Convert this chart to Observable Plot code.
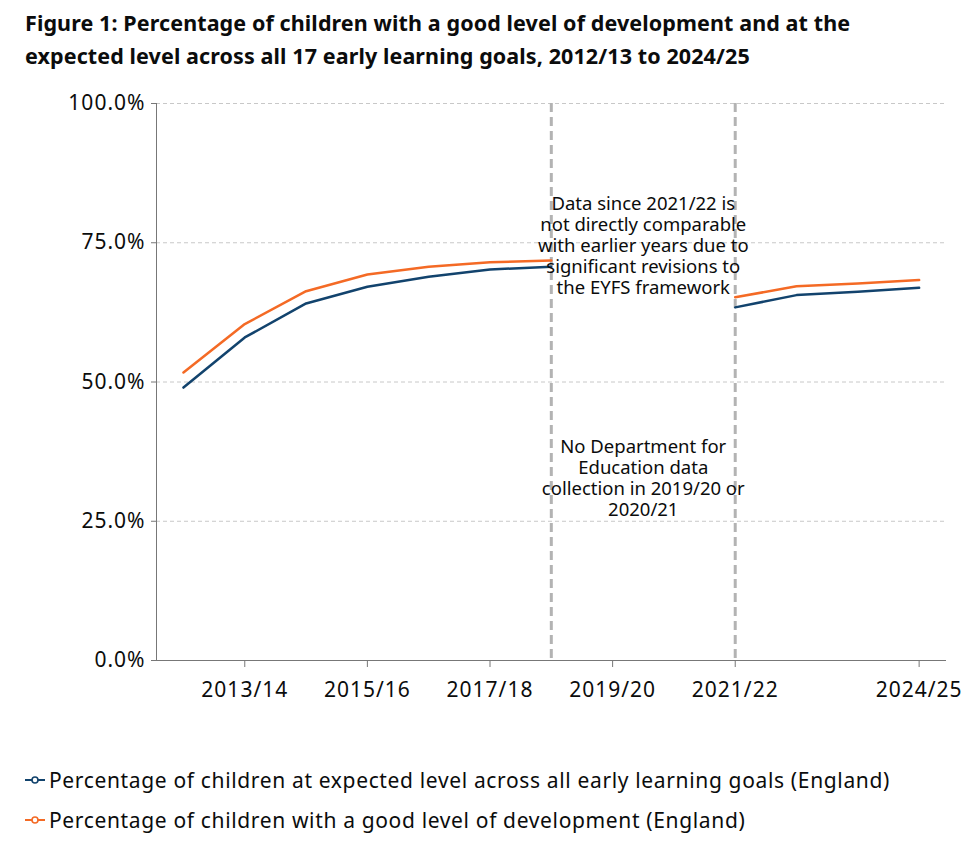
<!DOCTYPE html>
<html>
<head>
<meta charset="utf-8">
<script src="https://cdn.jsdelivr.net/npm/d3@7"></script>
<script src="https://cdn.jsdelivr.net/npm/@observablehq/plot@0.6"></script>
<style>
  body { margin: 0; background: #fff; font-family: "Noto Sans", sans-serif; color: #0b0c0c; }
  #title { position: absolute; left: 25px; top: 6px; width: 850px; font-weight: bold; font-size: 21.5px; line-height: 33px; letter-spacing: 0.1px; }
  #chart { position: absolute; left: 0; top: 85px; }
  #legend { position: absolute; left: 25px; top: 760px; font-size: 21px; letter-spacing: 0.65px; }
  .item { display: flex; align-items: center; white-space: nowrap; height: 40px; }
  .item svg { margin-right: 4px; }
  .note text { letter-spacing: 0px; }
</style>
</head>
<body>
<div id="title">Figure 1: Percentage of children with a good level of development and at the expected level across all 17 early learning goals, 2012/13 to 2024/25</div>
<div id="chart"></div>
<div id="legend"></div>
<script>
// Start year of each academic year (2012 = 2012/13)
const years = [2012, 2013, 2014, 2015, 2016, 2017, 2018, 2019, 2020, 2021, 2022, 2023, 2024];
// Percentage at expected level across all early learning goals (null = no data collected)
const expectedLevel = [49.0, 58.0, 64.1, 67.1, 68.9, 70.2, 70.7, null, null, 63.4, 65.6, 66.2, 66.9];
// Percentage with a good level of development
const goodLevel = [51.7, 60.4, 66.3, 69.3, 70.7, 71.5, 71.8, null, null, 65.2, 67.2, 67.7, 68.3];
const xTicks = [2013, 2015, 2017, 2019, 2021, 2024];
const yTicks = [0, 25, 50, 75, 100];
const breakYears = [2018, 2021];
const seriesNames = [
  "Percentage of children at expected level across all early learning goals (England)",
  "Percentage of children with a good level of development (England)"
];
const colors = ["#12436D", "#F46A25"];
const notes = [
  {year: 2019.5, y: 74.6, text: "Data since 2021/22 is\nnot directly comparable\nwith earlier years due to\nsignificant revisions to\nthe EYFS framework"},
  {year: 2019.5, y: 32.8, text: "No Department for\nEducation data\ncollection in 2019/20 or\n2020/21"}
];

const rows = [];
years.forEach((yr, i) => {
  rows.push({year: yr, value: expectedLevel[i], series: seriesNames[0]});
  rows.push({year: yr, value: goodLevel[i], series: seriesNames[1]});
});

const fmtYear = d => `${d}/${String((d + 1) % 100).padStart(2, "0")}`;

const chart = Plot.plot({
  width: 970,
  height: 635,
  marginLeft: 156,
  marginRight: 25,
  marginTop: 18,
  marginBottom: 60,
  style: {fontFamily: "Noto Sans, sans-serif", fontSize: "21px", letterSpacing: "1px", color: "#0b0c0c", background: "transparent"},
  x: {domain: [2011.56, 2024.43]},
  y: {domain: [0, 100]},
  color: {domain: seriesNames, range: colors},
  marks: [
    Plot.gridY(yTicks, {stroke: "#c8c8c8", strokeOpacity: 1, strokeDasharray: "4,3"}),
    Plot.ruleX(breakYears, {stroke: "#b3b3b3", strokeWidth: 3, strokeDasharray: "9,5"}),
    Plot.frame({anchor: "left", stroke: "#777"}),
    Plot.frame({anchor: "bottom", stroke: "#777"}),
    Plot.axisY(yTicks, {tickSize: 5, tickPadding: 6, stroke: "#777", tickFormat: d => d.toFixed(1) + "%", label: null}),
    Plot.axisX(xTicks, {tickSize: 7, tickPadding: 15, stroke: "#777", tickFormat: fmtYear, label: null}),
    Plot.line(rows, {x: "year", y: "value", z: "series", stroke: "series", strokeWidth: 2.5, defined: d => d.value != null}),
    Plot.text(notes, {x: "year", y: "y", text: "text", fontSize: 18.5, lineHeight: 1.14, fill: "#0b0c0c", textAnchor: "middle", className: "note"})
  ]
});
document.getElementById("chart").append(chart);

const legend = document.getElementById("legend");
seriesNames.forEach((name, i) => {
  const div = document.createElement("div");
  div.className = "item";
  div.innerHTML = `<svg width="20" height="10"><line x1="0" y1="5" x2="20" y2="5" stroke="${colors[i]}" stroke-width="2"/><circle cx="10" cy="5" r="3" fill="#fff" stroke="${colors[i]}" stroke-width="1.6"/></svg><span>${name}</span>`;
  legend.append(div);
});
</script>
</body>
</html>
